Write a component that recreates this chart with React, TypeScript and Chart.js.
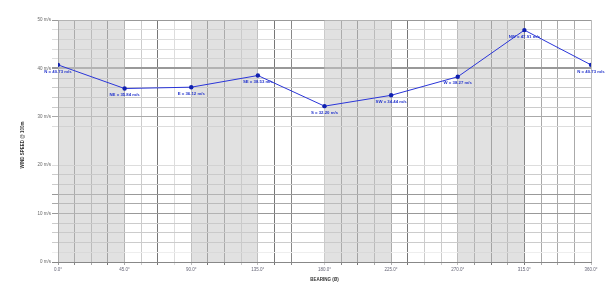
import React, { useEffect, useRef } from "react";
import { Chart, registerables } from "chart.js";

Chart.register(...registerables);

const directions = ["N", "NE", "E", "SE", "S", "SW", "W", "NW", "N"];
const bearings = [0, 45, 90, 135, 180, 225, 270, 315, 360];
const speeds = [40.73, 35.84, 36.12, 38.53, 32.2, 34.44, 38.27, 47.91, 40.73];
const shadedBands: [number, number][] = [
  [0, 45],
  [90, 135],
  [180, 225],
  [270, 315],
];
const xTitle = "BEARING (Ø)";
const yTitle = "WIND SPEED @ 100m";

// style: vertical grid line colours per 11.25° step
const vGridColors = [
  "#999", "#888", "#aaa", "#777", "#aaa", "#ccc", "#777", "#ddd", "#bbb",
  "#777", "#888", "#ccc", "#bbb", "#777", "#888", "rgba(0,0,0,0)", "#ccc",
  "#888", "#777", "#aaa", "#aaa", "#777", "#ccc", "#ccc", "#bbb",
  "#999", "#777", "#aaa", "#777", "#aaa", "#aaa", "#aaa", "#bbb",
];

function hGridColor(v: number): string {
  const r = Math.round(v);
  if (r === 0) return "#888";
  if (r === 2) return "#eee";
  if (r === 10) return "#999";
  if (r === 12) return "#aaa";
  if (r === 14) return "#999";
  if (r === 20) return "#ddd";
  if (r >= 22 && r <= 26) return "rgba(0,0,0,0)";
  if (r === 28) return "#ddd";
  if (r === 30) return "#aaa";
  if (r === 40) return "#999";
  if (r === 50) return "#999";
  if (r > 40) return "#ddd";
  return "#ccc";
}

const FONT = "'Liberation Sans', Arial, sans-serif";

const bandPlugin = {
  id: "bands",
  beforeDatasetsDraw(chart: any) {
    const { ctx, chartArea, scales } = chart;
    ctx.save();
    ctx.fillStyle = "rgba(200,200,200,0.55)";
    for (const [a, b] of shadedBands) {
      const x1 = scales.x.getPixelForValue(a);
      const x2 = scales.x.getPixelForValue(b);
      ctx.fillRect(x1, chartArea.top, x2 - x1, chartArea.bottom - chartArea.top);
    }
    ctx.restore();
  },
};

const labelPlugin = {
  id: "pointLabels",
  afterDatasetsDraw(chart: any) {
    const { ctx, chartArea } = chart;
    const meta = chart.getDatasetMeta(0);
    ctx.save();
    ctx.font = `bold 4.3px ${FONT}`;
    ctx.fillStyle = "#2233cc";
    ctx.textAlign = "center";
    ctx.textBaseline = "middle";
    meta.data.forEach((pt: any, i: number) => {
      const txt = `${directions[i]} = ${speeds[i].toFixed(2)} m/s`;
      ctx.fillText(txt, pt.x, pt.y + 6.5);
    });
    // axis titles
    ctx.fillStyle = "#333";
    ctx.font = `bold 4.5px ${FONT}`;
    ctx.fillText(xTitle, (chartArea.left + chartArea.right) / 2, 280);
    ctx.translate(22.5, (chartArea.top + chartArea.bottom) / 2 + 4);
    ctx.rotate(-Math.PI / 2);
    ctx.fillText(yTitle, 0, 0);
    ctx.restore();
  },
};

export default function App() {
  const ref = useRef<HTMLCanvasElement | null>(null);
  useEffect(() => {
    if (!ref.current) return;
    const chart = new Chart(ref.current, {
      type: "line",
      data: {
        datasets: [
          {
            data: bearings.map((b, i) => ({ x: b, y: speeds[i] })),
            borderColor: "#2a35d8",
            backgroundColor: "#1020b0",
            borderWidth: 1,
            pointRadius: 2.2,
            pointBorderWidth: 0,
            pointBackgroundColor: "#1020b0",
            tension: 0,
          },
        ],
      },
      options: {
        responsive: false,
        animation: false,
        events: [],
        layout: { padding: { left: 0, top: 20, right: 23, bottom: 0 } },
        plugins: { legend: { display: false }, tooltip: { enabled: false } },
        scales: {
          x: {
            type: "linear",
            min: 0,
            max: 360,
            afterFit: (s: any) => {
              s.height = 30;
            },
            border: { display: true, color: "#888", width: 1 },
            grid: {
              color: (c: any) => vGridColors[Math.round((c.tick?.value ?? 0) / 11.25)] || "#ccc",
              lineWidth: 1,
              drawTicks: true,
              tickLength: 3,
            },
            ticks: {
              stepSize: 11.25,
              autoSkip: false,
              maxRotation: 0,
              padding: 2,
              color: "#667",
              font: { size: 4.5, family: FONT },
              callback: (v: any) => {
                const n = Number(v);
                return Math.abs(n % 45) < 1e-6 ? n.toFixed(1) + "°" : "";
              },
            },
          },
          y: {
            type: "linear",
            min: 0,
            max: 50,
            afterFit: (s: any) => {
              s.width = 58;
            },
            border: { display: true, color: "#888", width: 1 },
            grid: {
              color: (c: any) => hGridColor(c.tick?.value ?? 0),
              lineWidth: (c: any) => (Math.round(c.tick?.value ?? 0) === 40 ? 2 : 1),
              drawTicks: true,
              tickLength: 6,
            },
            ticks: {
              stepSize: 2,
              autoSkip: false,
              padding: 1,
              color: "#666",
              font: { size: 4.5, family: FONT },
              callback: (v: any) => {
                const n = Math.round(Number(v));
                return n % 10 === 0 ? `${n} m/s` : "";
              },
            },
          },
        },
      },
      plugins: [bandPlugin, labelPlugin],
    } as any);
    return () => chart.destroy();
  }, []);
  return (
    <div style={{ position: "fixed", left: 0, top: 0, width: 614, height: 292, background: "#fff" }}>
      <canvas ref={ref} width={614} height={292} style={{ display: "block" }} />
    </div>
  );
}
